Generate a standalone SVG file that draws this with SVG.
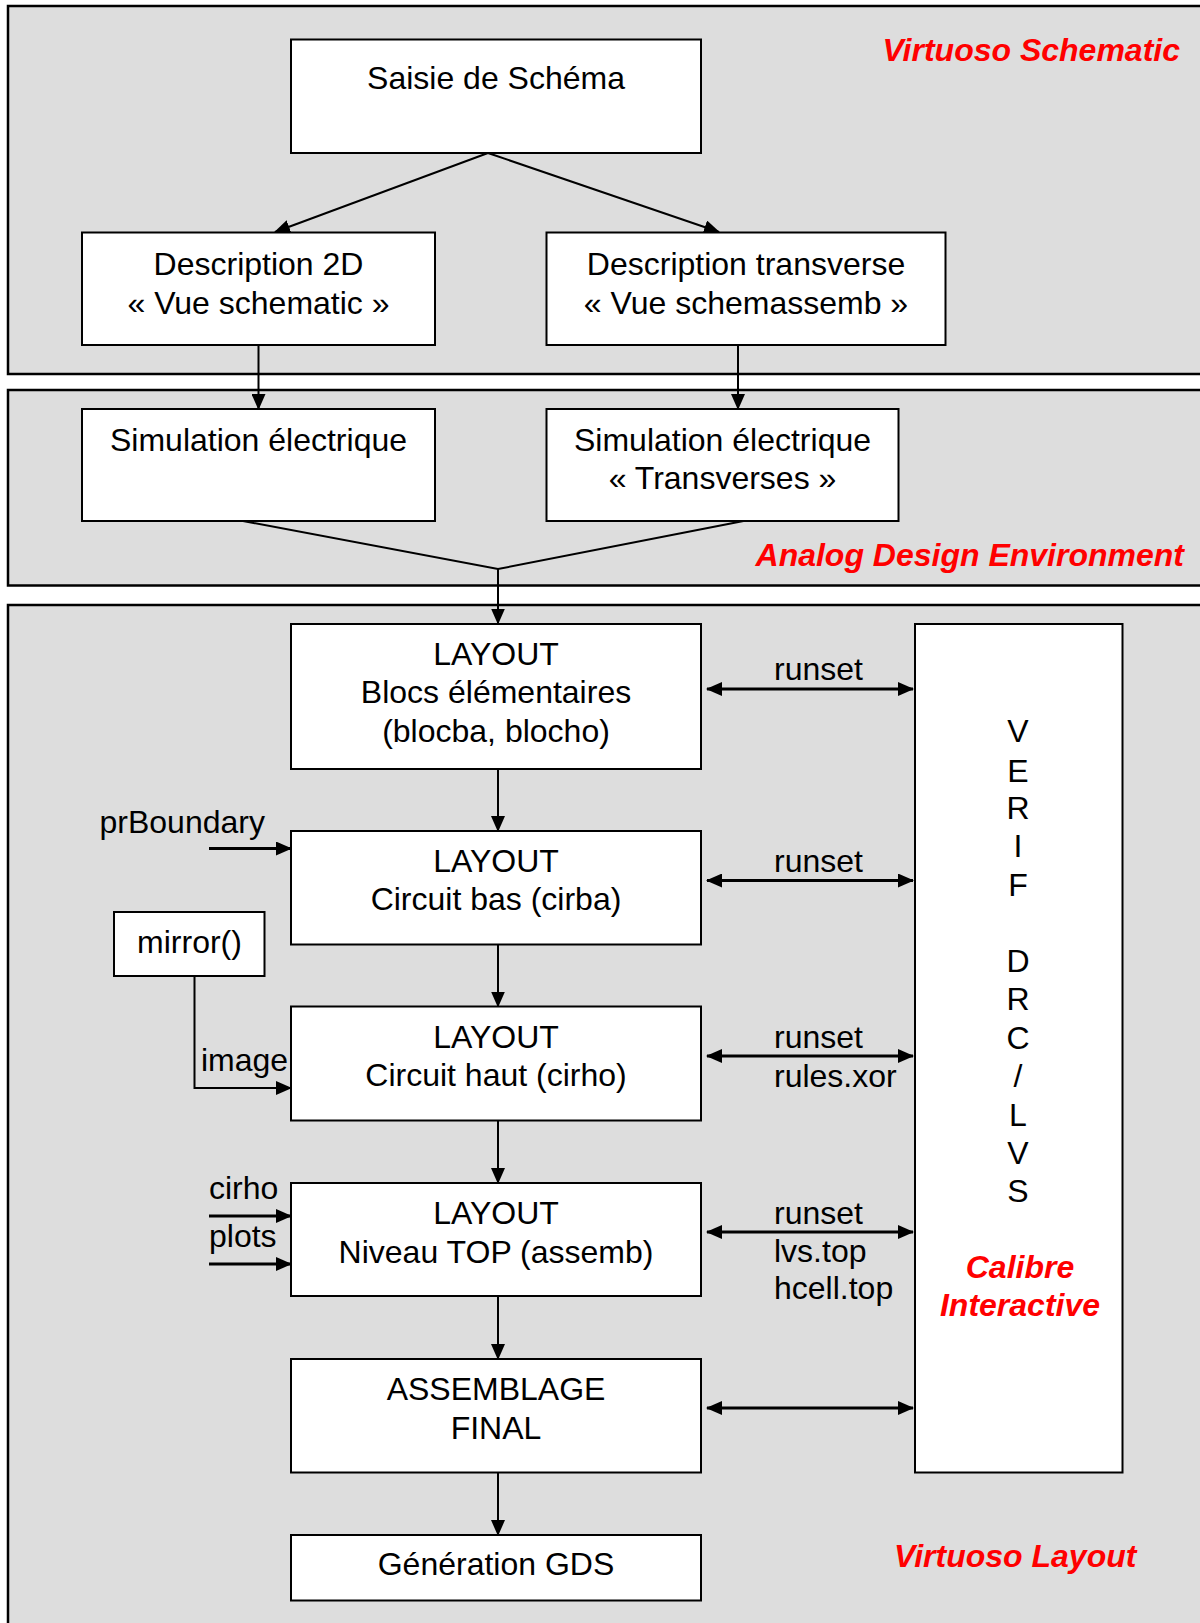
<svg xmlns="http://www.w3.org/2000/svg" width="1200" height="1623" viewBox="0 0 1200 1623">
<defs>
<style>
.panel{fill:#dddddd;stroke:#000;stroke-width:2.5}
.box{fill:#fff;stroke:#000;stroke-width:2}
.t{font-family:"Liberation Sans",Arial,sans-serif;font-size:32px;fill:#000}
.c{text-anchor:middle}
.red{font-family:"Liberation Sans",Arial,sans-serif;font-size:32px;fill:#ff0000;font-weight:bold;font-style:italic}
.ln{stroke:#000;stroke-width:2;fill:none}
.lnb{stroke:#000;stroke-width:3;fill:none}
</style>
<marker id="ah" markerUnits="userSpaceOnUse" markerWidth="16" markerHeight="14" refX="15" refY="7" orient="auto-start-reverse" viewBox="0 0 16 14">
<path d="M0,0 L16,7 L0,14 Z" fill="#000"/>
</marker>
</defs>
<g id="panels">
<rect class="panel" x="8" y="6" width="1200" height="368"/>
<rect class="panel" x="8" y="390" width="1200" height="195.5"/>
<rect class="panel" x="8" y="605" width="1200" height="1100"/>
<text class="red" x="1180" y="61" text-anchor="end">Virtuoso Schematic</text>
<text class="red" x="1184" y="566" text-anchor="end">Analog Design Environment</text>
<text class="red" x="894" y="1567">Virtuoso Layout</text>
</g>
<g id="connectors">
<path class="ln" d="M488,153 L275,232" marker-end="url(#ah)"/>
<path class="ln" d="M488,153 L719,232" marker-end="url(#ah)"/>
<path class="ln" d="M258.5,345 L258.5,409" marker-end="url(#ah)"/>
<path class="ln" d="M738,345 L738,409" marker-end="url(#ah)"/>
<path class="ln" d="M243,521 L498,569 L743.5,521"/>
<path class="ln" d="M498,569 L498,623.5" marker-end="url(#ah)"/>
<path class="ln" d="M498,769 L498,831" marker-end="url(#ah)"/>
<path class="ln" d="M498,944.5 L498,1006.5" marker-end="url(#ah)"/>
<path class="ln" d="M498,1120.5 L498,1183" marker-end="url(#ah)"/>
<path class="ln" d="M498,1296 L498,1359" marker-end="url(#ah)"/>
<path class="ln" d="M498,1472.5 L498,1535" marker-end="url(#ah)"/>
<path class="lnb" d="M707,689 L913,689" marker-start="url(#ah)" marker-end="url(#ah)"/>
<path class="lnb" d="M707,880.5 L913,880.5" marker-start="url(#ah)" marker-end="url(#ah)"/>
<path class="lnb" d="M707,1056 L913,1056" marker-start="url(#ah)" marker-end="url(#ah)"/>
<path class="lnb" d="M707,1232 L913,1232" marker-start="url(#ah)" marker-end="url(#ah)"/>
<path class="lnb" d="M707,1408 L913,1408" marker-start="url(#ah)" marker-end="url(#ah)"/>
<path class="lnb" d="M209,848.5 L291,848.5" marker-end="url(#ah)"/>
<path class="ln" d="M194.5,976 L194.5,1088 L291,1088" marker-end="url(#ah)"/>
<path class="lnb" d="M209,1216 L291,1216" marker-end="url(#ah)"/>
<path class="lnb" d="M209,1264 L291,1264" marker-end="url(#ah)"/>
<text class="t" x="774" y="680">runset</text>
<text class="t" x="774" y="872">runset</text>
<text class="t" x="774" y="1048">runset</text>
<text class="t" x="774" y="1087">rules.xor</text>
<text class="t" x="774" y="1224">runset</text>
<text class="t" x="774" y="1262">lvs.top</text>
<text class="t" x="774" y="1299">hcell.top</text>
<text class="t" x="99.5" y="833">prBoundary</text>
<text class="t" x="201" y="1071">image</text>
<text class="t" x="209" y="1199">cirho</text>
<text class="t" x="209" y="1247">plots</text>
</g>
<g id="n-saisie">
<rect class="box" x="291" y="39.5" width="410" height="113.5"/>
<text class="t c" x="496" y="89">Saisie de Schéma</text>
</g>
<g id="n-desc2d">
<rect class="box" x="82" y="232.5" width="353" height="112.5"/>
<text class="t c" x="258.5" y="275">Description 2D</text>
<text class="t c" x="258.5" y="314">« Vue schematic »</text>
</g>
<g id="n-desctrans">
<rect class="box" x="546.5" y="232.5" width="399" height="112.5"/>
<text class="t c" x="746" y="275">Description transverse</text>
<text class="t c" x="746" y="314">« Vue schemassemb »</text>
</g>
<g id="n-sim1">
<rect class="box" x="82" y="409" width="353" height="112"/>
<text class="t c" x="258.5" y="451">Simulation électrique</text>
</g>
<g id="n-sim2">
<rect class="box" x="546.5" y="409" width="352" height="112"/>
<text class="t c" x="722.5" y="451">Simulation électrique</text>
<text class="t c" x="722.5" y="489">« Transverses »</text>
</g>
<g id="n-layout1">
<rect class="box" x="291" y="624" width="410" height="145"/>
<text class="t c" x="496" y="665">LAYOUT</text>
<text class="t c" x="496" y="703">Blocs élémentaires</text>
<text class="t c" x="496" y="741.5">(blocba, blocho)</text>
</g>
<g id="n-layout2">
<rect class="box" x="291" y="831" width="410" height="113.5"/>
<text class="t c" x="496" y="872">LAYOUT</text>
<text class="t c" x="496" y="910">Circuit bas (cirba)</text>
</g>
<g id="n-mirror">
<rect class="box" x="114" y="912" width="150.5" height="64"/>
<text class="t c" x="189.5" y="953">mirror()</text>
</g>
<g id="n-layout3">
<rect class="box" x="291" y="1006.5" width="410" height="114"/>
<text class="t c" x="496" y="1048">LAYOUT</text>
<text class="t c" x="496" y="1086">Circuit haut (cirho)</text>
</g>
<g id="n-layout4">
<rect class="box" x="291" y="1183" width="410" height="113"/>
<text class="t c" x="496" y="1224">LAYOUT</text>
<text class="t c" x="496" y="1262.5">Niveau TOP (assemb)</text>
</g>
<g id="n-assemblage">
<rect class="box" x="291" y="1359" width="410" height="113.5"/>
<text class="t c" x="496" y="1400">ASSEMBLAGE</text>
<text class="t c" x="496" y="1438.5">FINAL</text>
</g>
<g id="n-gds">
<rect class="box" x="291" y="1535" width="410" height="65.5"/>
<text class="t c" x="496" y="1575">Génération GDS</text>
</g>
<g id="n-verif">
<rect class="box" x="915" y="624" width="207.5" height="848.5"/>
<text class="t c" x="1018" y="742">V</text>
<text class="t c" x="1018" y="781.5">E</text>
<text class="t c" x="1018" y="819">R</text>
<text class="t c" x="1018" y="856.5">I</text>
<text class="t c" x="1018" y="895.5">F</text>
<text class="t c" x="1018" y="972">D</text>
<text class="t c" x="1018" y="1010">R</text>
<text class="t c" x="1018" y="1048.5">C</text>
<text class="t c" x="1018" y="1086.5">/</text>
<text class="t c" x="1018" y="1126">L</text>
<text class="t c" x="1018" y="1164">V</text>
<text class="t c" x="1018" y="1201.5">S</text>
<text class="red c" x="1020" y="1278">Calibre</text>
<text class="red c" x="1020" y="1316">Interactive</text>
</g>
</svg>
